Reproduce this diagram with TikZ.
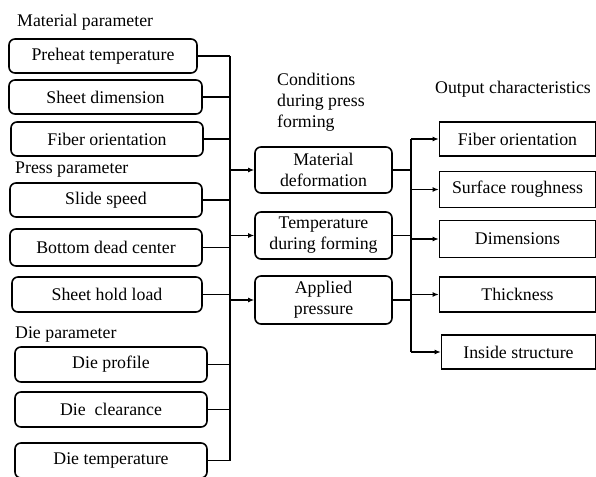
\documentclass[tikz,border=0pt]{standalone}
\usepackage{fontspec}
\setmainfont{Liberation Serif}
\usetikzlibrary{arrows.meta}
\begin{document}
\begin{tikzpicture}[x=1pt,y=-1pt,
  every node/.style={font=\fontsize{17.8}{21}\selectfont, inner sep=0pt},
  rbox/.style={draw, line width=1.6pt, rounded corners=6pt, align=center},
  sbox/.style={draw, line width=1.6pt, align=center},
  lbl/.style={anchor=west},
  wire/.style={line width=1.6pt},
  arr/.style={line width=1.6pt, -{Latex[length=6pt,width=5pt]}}]
\useasboundingbox (0,0) rectangle (596,476);
% left column
\node[lbl] (lm) at (17,22) {Material parameter};
\node[rbox, minimum width=188pt, minimum height=34pt] (pre) at (103,56) {Preheat temperature};
\node[rbox, minimum width=193pt, minimum height=34pt] (sd) at (105.5,97) {Sheet dimension};
\node[rbox, minimum width=192pt, minimum height=34pt] (fo) at (107,139) {Fiber orientation};
\node[lbl] (lp) at (15,170) {Press parameter};
\node[rbox, minimum width=192pt, minimum height=34pt] (ss) at (106,200) {Slide speed};
\node[rbox, minimum width=192pt, minimum height=37pt] (bd) at (106,247.5) {Bottom dead center};
\node[rbox, minimum width=190pt, minimum height=35pt] (sh) at (107,294.5) {Sheet hold load};
\node[lbl] (ld) at (15,334) {Die parameter};
\node[rbox, minimum width=192pt, minimum height=35pt] (dp) at (111,364.5) {Die profile};
\node[rbox, minimum width=192pt, minimum height=35pt] (dc) at (111,409.5) {Die\ \ clearance};
\node[rbox, minimum width=192pt, minimum height=35pt] (dt) at (111,460.5) {Die temperature};
% middle column
\node[anchor=west, align=left] (lc) at (277,102) {Conditions\\during press\\forming};
\node[rbox, minimum width=137pt, minimum height=46pt] (md) at (323.5,170) {Material\\deformation};
\node[rbox, minimum width=137pt, minimum height=47pt] (tf) at (323.5,235.5) {Temperature\\during forming};
\node[rbox, minimum width=137pt, minimum height=48pt] (ap) at (323.5,300) {Applied\\pressure};
% right column
\node[anchor=west] (lo) at (435,89) {Output characteristics};
\node[sbox, minimum width=156pt, minimum height=34pt] (ofo) at (517.5,139) {Fiber orientation};
\node[sbox, minimum width=156pt, minimum height=36pt] (osr) at (517.5,189.5) {Surface roughness};
\node[sbox, minimum width=156pt, minimum height=37pt] (odi) at (517.5,239) {Dimensions};
\node[sbox, minimum width=156pt, minimum height=35pt] (oth) at (517.5,294.5) {Thickness};
\node[sbox, minimum width=154pt, minimum height=34pt] (ois) at (518.5,352) {Inside structure};
% buses
\coordinate (busL) at (230,0);
\coordinate (busR) at (411,0);
\draw[wire] (pre.east -| busL) -- (dt.east -| busL);
\foreach \n in {pre,sd,fo,ss,bd,sh,dp,dc,dt} \draw[wire] (\n.east) -- (\n.east -| busL);
\foreach \n in {md,tf,ap} \draw[arr] (\n.west -| busL) -- (\n.west);
\draw[wire] (ofo.west -| busR) -- (ois.west -| busR);
\foreach \n in {md,tf,ap} \draw[wire] (\n.east) -- (\n.east -| busR);
\foreach \n in {ofo,osr,odi,oth,ois} \draw[arr] (\n.west -| busR) -- (\n.west);
\end{tikzpicture}
\end{document}
